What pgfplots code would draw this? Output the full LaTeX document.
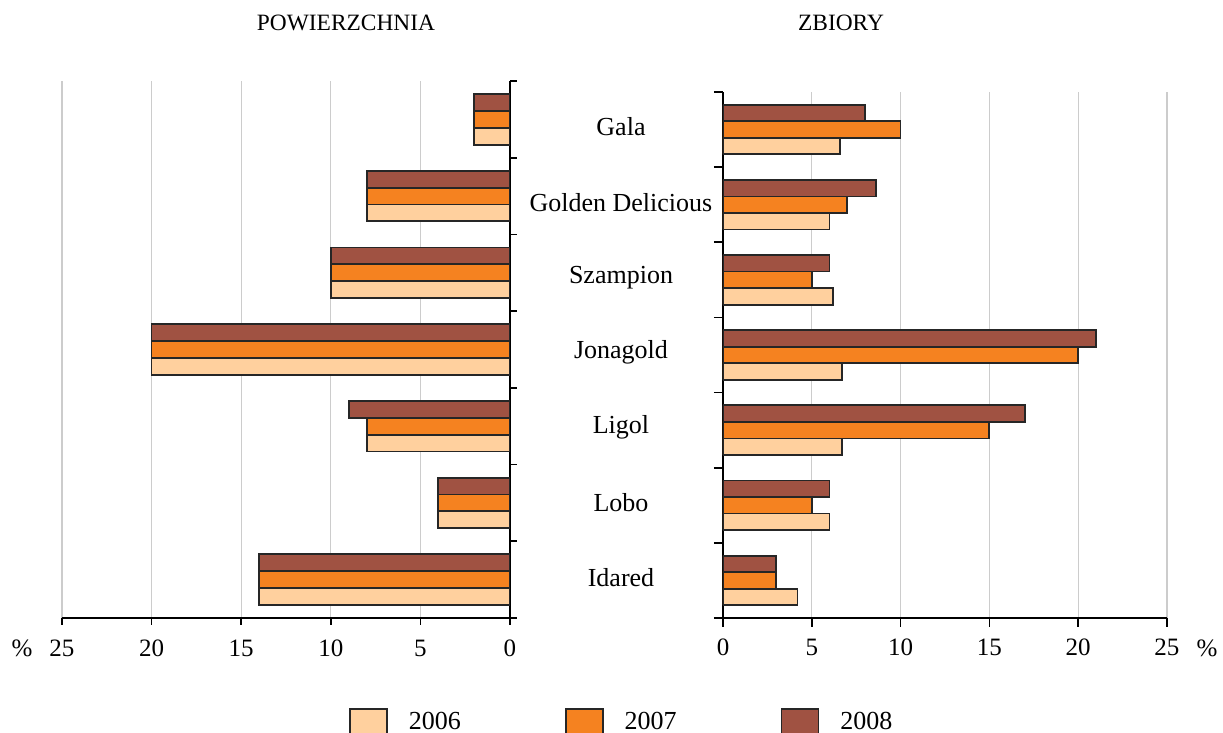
\documentclass[border=0pt]{standalone}
\usepackage{pgfplots}
\pgfplotsset{compat=1.18}
\usepackage{fontspec}
\setmainfont{Liberation Serif}
\definecolor{c06}{RGB}{255,208,158}
\definecolor{c07}{RGB}{245,130,32}
\definecolor{c08}{RGB}{160,82,66}
\pgfplotsset{
  common/.style={
    scale only axis, xbar,
    xmin=0, xmax=25, ymin=-0.5, ymax=6.5,
    xtick={0,5,...,25},
    ytick={-0.5,0.5,...,6.5}, yticklabels={},
    axis x line*=bottom,
    tick align=outside, major tick length=3.5pt,
    xmajorgrids, grid style={gray!40, line width=0.6pt},
    axis line style={-, line width=1pt},
    tick style={black, line width=0.8pt},
    /pgf/number format/assume math mode=true,
    ticklabel style={font=\fontsize{12.5}{14}\selectfont},
    xticklabel style={yshift=-4pt},
    bar width=0.22, clip mode=individual,
  },
  b06/.style={fill=c06, draw=black!85, line width=0.9pt, bar shift=-0.22},
  b07/.style={fill=c07, draw=black!85, line width=0.9pt, bar shift=0},
  b08/.style={fill=c08, draw=black!85, line width=0.9pt, bar shift=0.22},
}
\begin{document}
\begin{tikzpicture}
\path[use as bounding box] (0pt,0pt) rectangle (611.5pt,366.5pt);
% left panel
\begin{axis}[common,
  at={(31pt,57.5pt)}, anchor=south west,
  width=224pt, height=268.5pt,
  x dir=reverse, axis y line*=right,
]
\addplot[b06] coordinates {(14,0) (4,1) (8,2) (20,3) (10,4) (8,5) (2,6)};
\addplot[b07] coordinates {(14,0) (4,1) (8,2) (20,3) (10,4) (8,5) (2,6)};
\addplot[b08] coordinates {(14,0) (4,1) (9,2) (20,3) (10,4) (8,5) (2,6)};
\end{axis}
% right panel
\begin{axis}[common,
  at={(361.5pt,57.5pt)}, anchor=south west,
  width=222pt, height=263pt,
  axis y line*=left, major tick length=4.5pt,
  xticklabel style={yshift=1.5pt},
  legend columns=3,
  legend style={draw=none, fill=none, at={(-0.226,-0.198)}, anchor=center,
    font=\fontsize{13}{15}\selectfont,
    /tikz/every even column/.append style={column sep=50pt}},
  legend image code/.code={\draw[#1] (0pt,-6pt) rectangle (18.5pt,6.5pt); \path (27pt,0pt);},
]
\addplot[b06] coordinates {(4.2,0) (6,1) (6.7,2) (6.7,3) (6.2,4) (6,5) (6.6,6)};
\addplot[b07] coordinates {(3,0) (5,1) (15,2) (20,3) (5,4) (7,5) (10,6)};
\addplot[b08] coordinates {(3,0) (6,1) (17,2) (21,3) (6,4) (8.6,5) (8,6)};
\legend{2006,2007,2008}
\begin{scope}[every node/.style={font=\fontsize{13}{15}\selectfont, xshift=-51pt, yshift=1.25pt}]
\node at (axis cs:0,6) {Gala};
\node at (axis cs:0,5) {Golden Delicious};
\node at (axis cs:0,4) {Szampion};
\node at (axis cs:0,3) {Jonagold};
\node at (axis cs:0,2) {Ligol};
\node at (axis cs:0,1) {Lobo};
\node at (axis cs:0,0) {Idared};
\end{scope}
\end{axis}
\node[font=\fontsize{11.7}{14}\selectfont] at (173pt,355pt) {POWIERZCHNIA};
\node[font=\fontsize{11.7}{14}\selectfont] at (420.5pt,355pt) {ZBIORY};
\node[font=\fontsize{12.5}{14}\selectfont] at (11pt,42.5pt) {\%};
\node[font=\fontsize{12.5}{14}\selectfont] at (603.5pt,42.5pt) {\%};
\end{tikzpicture}
\end{document}
